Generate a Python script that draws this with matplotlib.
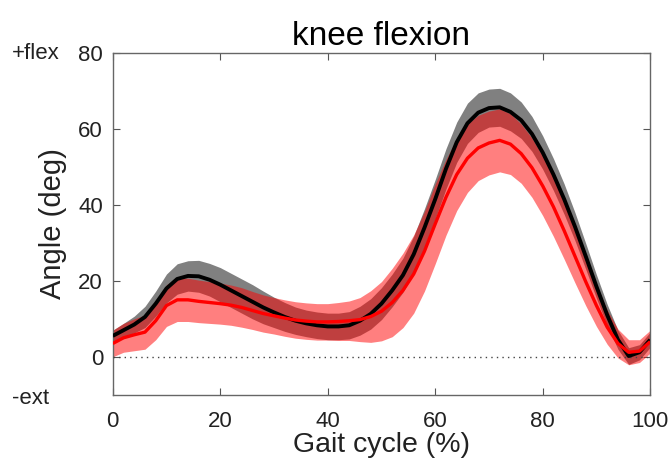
import matplotlib
matplotlib.use("Agg")
import matplotlib.pyplot as plt
import numpy as np

plt.rcParams['font.family'] = ['Liberation Sans', 'DejaVu Sans']

gait = list(range(0, 101, 2))
black_mean = [5.5, 7.0, 8.5, 10.5, 14.0, 18.0, 20.5, 21.3, 21.2, 20.3,
              19.0, 17.5, 16.0, 14.5, 13.0, 11.7, 10.5, 9.5, 8.8, 8.3,
              8.0, 8.0, 8.3, 9.5, 11.3, 14.0, 17.5, 21.5, 27.0, 34.0,
              41.5, 49.5, 56.5, 61.5, 64.3, 65.5, 65.7, 64.5, 62.3, 58.7,
              53.8, 48.0, 41.5, 34.3, 26.5, 18.5, 11.0, 4.5, 0.2, 1.2, 4.5]
black_sd = [1.5, 1.8, 2.2, 2.8, 3.3, 3.8, 4.0, 4.0, 4.2, 4.3,
            4.5, 4.5, 4.5, 4.5, 4.3, 4.0, 3.8, 3.6, 3.5, 3.5,
            3.5, 3.5, 3.6, 3.8, 4.0, 4.2, 4.3, 4.5, 4.8, 5.0,
            5.2, 5.3, 5.3, 5.3, 5.2, 5.0, 5.0, 5.0, 4.8, 4.6,
            4.4, 4.2, 4.0, 3.7, 3.4, 3.1, 2.8, 2.5, 2.2, 2.0, 2.0]
red_mean = [3.5, 5.0, 5.8, 6.5, 9.5, 13.5, 15.0, 15.0, 14.6, 14.3,
            14.0, 13.6, 13.0, 12.2, 11.4, 10.8, 10.2, 9.7, 9.4, 9.2,
            9.2, 9.3, 9.5, 9.8, 10.6, 12.0, 14.3, 17.5, 21.8, 27.8,
            35.0, 42.0, 48.0, 52.3, 55.0, 56.3, 57.0, 56.0, 53.5, 49.8,
            45.0, 39.5, 33.2, 26.5, 19.8, 13.5, 7.8, 3.5, 1.2, 1.5, 4.0]
red_sd = [3.5, 3.8, 4.2, 4.5, 5.0, 5.5, 5.7, 5.7, 5.6, 5.5,
          5.4, 5.3, 5.2, 5.0, 4.9, 4.8, 4.8, 4.8, 4.8, 4.8,
          4.8, 5.0, 5.2, 5.8, 6.8, 7.8, 9.0, 9.8, 10.3, 10.5,
          10.5, 10.0, 9.5, 9.0, 8.6, 8.4, 8.3, 8.0, 7.8, 7.8,
          7.8, 7.8, 7.5, 7.0, 6.3, 5.5, 4.5, 3.8, 3.3, 3.0, 3.0]

xticks = [0, 20, 40, 60, 80, 100]
yticks = [0, 20, 40, 60, 80]

x = np.array(gait)
bm, bs = np.array(black_mean), np.array(black_sd)
rm, rs = np.array(red_mean), np.array(red_sd)

fig = plt.figure(figsize=(6.71, 4.65), dpi=100)
ax = fig.add_axes([0.168, 0.151, 0.801, 0.735])

ax.fill_between(x, bm - bs, bm + bs, color='#808080', lw=0, zorder=1)
ax.fill_between(x, rm - rs, rm + rs, color='red', alpha=0.5, lw=0, zorder=2)
ax.plot([0, 100], [0, 0], color='#444444', ls=(0, (1, 3)), lw=1.0, zorder=3)
ax.plot(x, bm, color='black', lw=2.8, zorder=4, solid_capstyle='butt')
ax.plot(x, rm, color='red', lw=2.4, zorder=5, solid_capstyle='butt')

ax.set_xlim(0, 100)
ax.set_ylim(-10, 80)
ax.set_xticks(xticks)
ax.set_yticks(yticks)
ax.tick_params(direction='in', top=True, right=True, labelsize=16,
               length=5, width=0.8, color='#555555', labelcolor='#222222')
ax.tick_params(axis='x', pad=12)
ax.tick_params(axis='y', pad=7)
for s in ax.spines.values():
    s.set_color('#666666')
    s.set_linewidth(1.0)

ax.set_title('knee flexion', fontsize=24, pad=6)
ax.set_xlabel('Gait cycle (%)', fontsize=20.5, color='#222222', labelpad=0)
ax.set_ylabel('Angle (deg)', fontsize=21, color='#222222', labelpad=8)

trans = ax.get_yaxis_transform()
ax.text(-0.188, 80, '+flex', transform=trans, ha='left', va='center',
        fontsize=16, color='#222222')
ax.text(-0.188, -11, '-ext', transform=trans, ha='left', va='center',
        fontsize=16, color='#222222')

fig.savefig('out.png', dpi=100)
